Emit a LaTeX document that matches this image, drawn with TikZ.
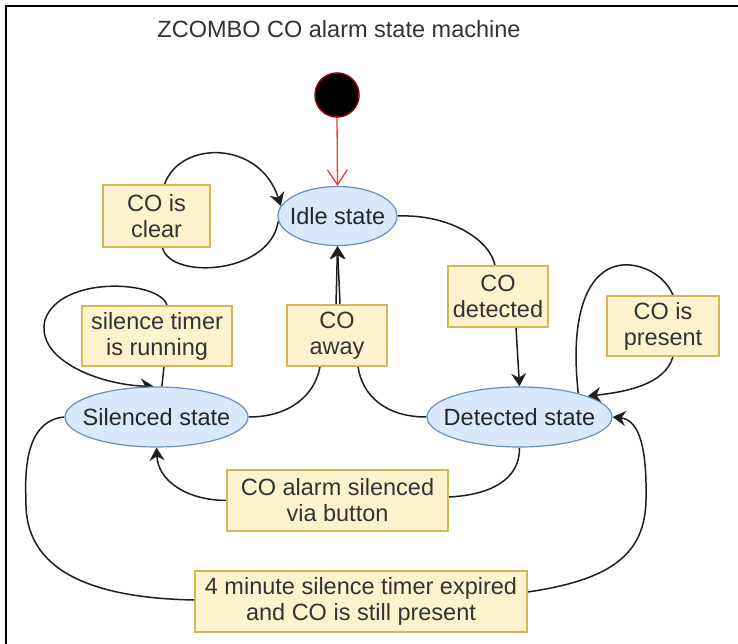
\documentclass[tikz,border=0pt]{standalone}
\usepackage{fontspec}
\setmainfont{Liberation Sans}
\usetikzlibrary{shapes.geometric,arrows.meta}
\pgfdeclarelayer{bg}
\pgfsetlayers{bg,main}
\definecolor{stfill}{HTML}{DAE8FC}
\definecolor{stdraw}{HTML}{6C8EBF}
\definecolor{lbfill}{HTML}{FFF2CC}
\definecolor{lbdraw}{HTML}{D6B656}
\definecolor{txt}{HTML}{333333}
\definecolor{edgecol}{HTML}{1E1E1E}
\definecolor{initred}{HTML}{F03C3C}
\begin{document}
\begin{tikzpicture}[x=1pt,y=-1pt,
  bigfont/.style={font=\fontsize{23.5}{26}\selectfont},
  state/.style={ellipse, draw=stdraw, fill=stfill, line width=1.2pt, inner sep=0pt, text=black!85, bigfont},
  lbl/.style={rectangle, draw=lbdraw, fill=lbfill, line width=1.2pt, inner sep=0pt, align=center, text=txt, bigfont},
  conn/.style={draw=edgecol, line width=1.5pt, -{Stealth[length=13pt,width=15pt]}},
]
\useasboundingbox (0,0) rectangle (738,644);
\coordinate (fbl) at (6,644);
\coordinate (ftl) at (6,6);
\coordinate (ftr) at (738,6);

\node[bigfont, text=txt] (title) at (339,29) {ZCOMBO CO alarm state machine};

\node[circle, fill=black, draw=red!55!black, line width=1.5pt, minimum size=44pt, inner sep=0pt] (init) at (337,95) {};

\node[state, minimum width=119pt, minimum height=59pt] (idle) at (337.5,216) {\makebox[0pt]{Idle state}};
\node[state, minimum width=183pt, minimum height=60pt] (sil) at (156.5,417) {\makebox[0pt]{Silenced state}};
\node[state, minimum width=185pt, minimum height=60pt] (det) at (519.5,417) {\makebox[0pt]{Detected state}};

\node[lbl, minimum width=107pt, minimum height=62pt] (lclear) at (156.5,216) {CO is\\clear};
\node[lbl, minimum width=150pt, minimum height=60pt] (lrun) at (157,336) {silence timer\\is running};
\node[lbl, minimum width=100pt, minimum height=61pt] (laway) at (337,335.5) {CO\\away};
\node[lbl, minimum width=100pt, minimum height=61pt] (ldet) at (498,296.5) {CO\\detected};
\node[lbl, minimum width=112pt, minimum height=60pt] (lpres) at (663,326) {CO is\\present};
\node[lbl, minimum width=221pt, minimum height=61pt] (lsil) at (337.5,500.5) {CO alarm silenced\\via button};
\node[lbl, minimum width=332pt, minimum height=61pt] (lexp) at (361,601.5) {4 minute silence timer expired\\and CO is still present};

\begin{pgfonlayer}{bg}
\fill[white] (0,0) rectangle (738,644);
\draw[line width=2pt, black] (fbl) -- (ftl) -- (ftr);
\draw[initred, line width=1.3pt, -{Straight Barb[length=15pt,width=20pt]}] (init.south) -- (idle.north);
% CO is clear loop
\draw[conn] (idle.185) .. controls (270,275) and (170,280) .. ([xshift=6pt]lclear.south) -- ([xshift=8pt]lclear.north) .. controls (180,140) and (260,140) .. (idle.170);
% idle -> detected
\draw[conn] (idle.east) .. controls (450,214) and (490,240) .. ([xshift=-3pt]ldet.north) -- ([xshift=18pt]ldet.south) -- (det.north);
% CO is present loop
\draw[conn] (det.22) .. controls (568,300) and (595,262) .. (630,265) .. controls (652,267) and (668,282) .. ([xshift=10pt]lpres.north) -- ([xshift=10pt]lpres.south) .. controls (665,385) and (625,392) .. (det.17);
% silence timer running loop
\draw[conn] (sil.80) -- ([xshift=7pt]lrun.south) -- ([xshift=10pt]lrun.north) .. controls (160,280) and (60,275) .. (45,320) .. controls (35,360) and (100,385) .. (sil.95);
% CO away: silenced -> idle
\draw[conn] (sil.east) .. controls (290,417) and (315,395) .. ([xshift=-17pt]laway.south) -- ([xshift=-1pt]laway.north) -- (idle.south);
% CO away: detected -> idle
\draw[conn] (det.west) .. controls (385,417) and (362,395) .. ([xshift=21pt]laway.south) -- ([xshift=3pt]laway.north) -- (idle.south);
% detected -> silenced
\draw[conn] (det.south) .. controls (520,480) and (490,495) .. ([yshift=3.5pt]lsil.east) -- (lsil.west) .. controls (185,500) and (158,480) .. (sil.south);
% silenced -> detected (timer expired)
\draw[conn] (sil.west) .. controls (30,420) and (24,460) .. (26,500) .. controls (24,570) and (90,598) .. ([yshift=1.5pt]lexp.west) -- ([yshift=9.5pt]lexp.east) .. controls (610,580) and (645,555) .. (646,500) .. controls (647,450) and (640,420) .. (det.east);
\end{pgfonlayer}
\end{tikzpicture}
\end{document}
